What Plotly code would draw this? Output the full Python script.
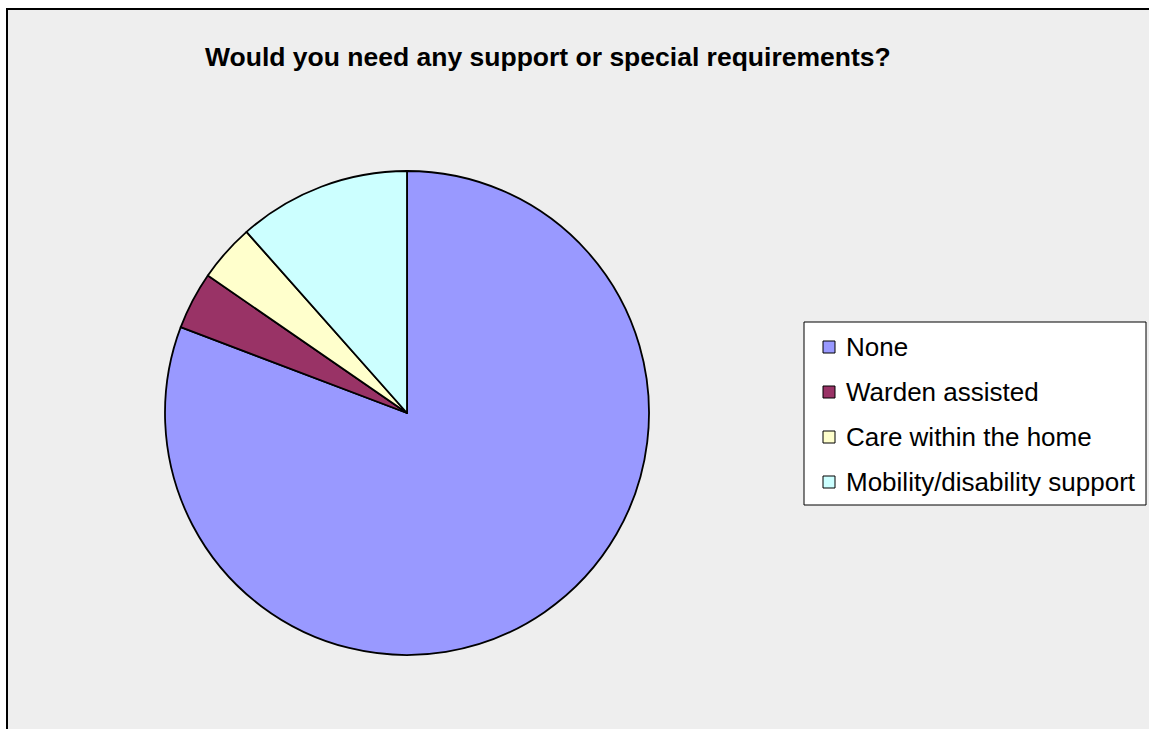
import plotly.graph_objects as go

# ---- data ----
categories = ["None", "Warden assisted", "Care within the home", "Mobility/disability support"]
counts = [21, 1, 1, 3]
colors = ["#9999FF", "#993366", "#FFFFCC", "#CCFFFF"]
title_text = "Would you need any support or special requirements?"

W, H = 1149, 729


def px(x):
    return x / W


def py(y):
    return 1 - y / H


fig = go.Figure()
fig.add_trace(go.Pie(
    labels=categories,
    values=counts,
    sort=False,
    direction="clockwise",
    rotation=0,
    textinfo="none",
    hoverinfo="label+value+percent",
    marker=dict(colors=colors, line=dict(color="black", width=1.8)),
    domain=dict(x=[px(165), px(649)], y=[py(655), py(171)]),
    showlegend=False,
))

shapes = [
    # chart area: gray fill with black border (right/bottom edges pushed off-canvas)
    dict(type="path", xref="paper", yref="paper", layer="below",
         path=f"M {px(7)},0 L {px(7)},{py(9)} L 1,{py(9)} L 1,0 Z",
         fillcolor="#EEEEEE", line=dict(width=0)),
    dict(type="path", xref="paper", yref="paper", layer="below",
         path=f"M {px(7)},0 L {px(7)},{py(9)} L 1,{py(9)}",
         line=dict(color="black", width=2)),
    # legend box
    dict(type="rect", xref="paper", yref="paper",
         x0=px(804), x1=px(1146), y0=py(505), y1=py(322),
         fillcolor="white", line=dict(color="black", width=1)),
]
annotations = [
    dict(text="<b>" + title_text + "</b>", xref="paper", yref="paper", x=px(548), y=py(57),
         xanchor="center", yanchor="middle", showarrow=False,
         font=dict(family="Liberation Sans, Arial, sans-serif", size=26.5, color="black"))
]

row_y0, row_gap = 347, 45
for i, (lab, col) in enumerate(zip(categories, colors)):
    yc = row_y0 + i * row_gap
    shapes.append(dict(type="rect", xref="paper", yref="paper",
                       x0=px(823), x1=px(835), y0=py(yc + 6), y1=py(yc - 6),
                       fillcolor=col, line=dict(color="black", width=1)))
    annotations.append(dict(text=lab, xref="paper", yref="paper", x=px(844), y=py(yc),
                            xanchor="left", yanchor="middle", showarrow=False,
                            font=dict(family="Liberation Sans, Arial, sans-serif", size=26, color="black")))

fig.update_layout(
    width=W, height=H,
    margin=dict(l=0, r=0, t=0, b=0),
    paper_bgcolor="white",
    plot_bgcolor="white",
    shapes=shapes,
    annotations=annotations,
    showlegend=False,
)

fig.write_html("out.html", config={"displayModeBar": False})
